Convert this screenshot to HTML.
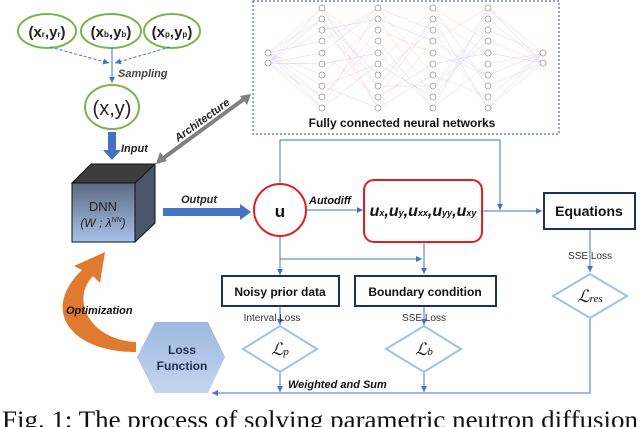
<!DOCTYPE html>
<html><head><meta charset="utf-8"><style>body{margin:0;background:#fff}svg{display:block}</style></head><body>
<svg width="640" height="427" viewBox="0 0 640 427" xmlns="http://www.w3.org/2000/svg" font-family="Liberation Sans, sans-serif">
<defs>
<marker id="a" markerWidth="8" markerHeight="8" refX="6" refY="3" orient="auto" markerUnits="userSpaceOnUse"><path d="M0,0 L6,3 L0,6z" fill="#4472c4"/></marker>
<linearGradient id="cf" x1="0" y1="0" x2="0" y2="1"><stop offset="0" stop-color="#5a6a82"/><stop offset="1" stop-color="#a9c2ea"/></linearGradient>
<linearGradient id="hx" x1="0" y1="0" x2="0" y2="1"><stop offset="0" stop-color="#9fb7e0"/><stop offset="1" stop-color="#c4d5ee"/></linearGradient>
</defs>
<g fill="none" stroke="#7fb24e" stroke-width="2">
<ellipse cx="47" cy="31" rx="29" ry="17"/><ellipse cx="111" cy="31" rx="30" ry="17"/><ellipse cx="172" cy="31" rx="28" ry="17"/>
<ellipse cx="112" cy="107" rx="27" ry="22"/>
</g>
<g font-size="15" fill="#222" text-anchor="middle" font-weight="bold">
<text x="47" y="37">(x<tspan font-size="8">r</tspan>,y<tspan font-size="8">r</tspan>)</text>
<text x="111" y="37">(x<tspan font-size="8">b</tspan>,y<tspan font-size="8">b</tspan>)</text>
<text x="172" y="37">(x<tspan font-size="8">p</tspan>,y<tspan font-size="8">p</tspan>)</text>
<text x="112" y="115" font-size="20" font-weight="normal">(x,y)</text>
</g>
<g stroke="#4472c4" stroke-width="1" fill="none">
<path d="M50,47 L109,63" stroke-dasharray="3,2" marker-end="url(#a)"/>
<path d="M170,47 L115,63" stroke-dasharray="3,2" marker-end="url(#a)"/>
<path d="M112,48 L112,83" marker-end="url(#a)"/>
</g>
<text x="118" y="77" font-size="11" font-style="italic" font-weight="bold" fill="#444">Sampling</text>
<path d="M108,132 L116,132 L116,150 L121,150 L112,160 L103,150 L108,150z" fill="#4472c4"/>
<text x="121" y="152" font-size="11" font-style="italic" font-weight="bold" fill="#222">Input</text>
<path d="M72,183 L91,164 L155,164 L135,183z" fill="#3d3d3d" stroke="#111"/>
<path d="M135,183 L155,164 L155,223 L135,242z" fill="#4a5568" stroke="#111"/>
<rect x="72" y="183" width="63" height="59" fill="url(#cf)" stroke="#111"/>
<text x="103" y="211" font-size="13" text-anchor="middle" fill="#222">DNN</text>
<text x="103" y="227" font-size="12" text-anchor="middle" font-style="italic" fill="#222">(W ; λ<tspan font-size="7" dy="-5">NN</tspan><tspan dy="5">)</tspan></text>
<path d="M158,162 L248,96" stroke="#808080" stroke-width="4"/>
<path d="M156,164 L160,152 L167,161z M251,94 L247,105 L240,96z" fill="#808080"/>
<text x="0" y="0" font-size="11" font-style="italic" font-weight="bold" fill="#222" transform="translate(178,142) rotate(-36)">Architecture</text>
<path d="M163,208 L240,208 L240,204 L251,212 L240,220 L240,216 L163,216z" fill="#4472c4"/>
<text x="181" y="203" font-size="11" font-style="italic" font-weight="bold" fill="#222">Output</text>
<rect x="253" y="1" width="306" height="133" fill="none" stroke="#2f4f8f" stroke-dasharray="2,2"/>
<g stroke-width="0.4" opacity="0.5">
<g stroke="#e88">
<path d="M268,53 L322,8 M268,63 L322,108 M268,53 L322,75 M268,63 L322,30 M268,53 L322,86 M268,63 L322,53 M268,53 L322,19 M268,63 L322,97
M322,8 L378,108 M322,108 L378,8 M322,30 L378,86 M322,53 L378,97 M322,8 L378,53 M322,41 L378,8 M322,75 L378,19 M322,86 L378,64 M322,97 L378,41 M322,19 L378,108
M378,19 L433,97 M378,64 L433,8 M378,108 L433,41 M378,8 L433,75 M378,30 L433,53 M378,53 L433,108 M378,75 L433,30 M378,97 L433,19 M378,86 L433,86
M433,30 L488,108 M433,86 L488,19 M433,53 L488,75 M433,8 L488,41 M433,108 L488,64 M433,41 L488,8 M433,75 L488,97 M433,19 L488,53
M488,8 L543,53 M488,108 L543,63 M488,41 L543,63 M488,30 L543,53 M488,86 L543,63 M488,64 L543,53"/>
</g>
<g stroke="#88e">
<path d="M268,53 L322,97 M268,63 L322,19 M268,53 L322,41 M268,63 L322,64 M268,53 L322,108 M268,63 L322,8
M322,19 L378,75 M322,97 L378,30 M322,64 L378,53 M322,8 L378,86 M322,30 L378,19 M322,108 L378,64 M322,53 L378,8 M322,86 L378,108
M378,41 L433,108 M378,86 L433,19 M378,97 L433,64 M378,8 L433,30 M378,64 L433,97 M378,19 L433,41 M378,108 L433,75
M433,8 L488,86 M433,97 L488,30 M433,64 L488,53 M433,19 L488,108 M433,41 L488,75 M433,108 L488,8 M433,86 L488,41
M488,19 L543,63 M488,97 L543,53 M488,75 L543,53 M488,53 L543,63 M488,8 L543,63 M488,108 L543,53"/>
</g>
</g>
<g fill="#fff" stroke="#999" stroke-width="0.8">
<circle cx="268" cy="53" r="3"/><circle cx="268" cy="63" r="3"/>
<circle cx="543" cy="53" r="3"/><circle cx="543" cy="63" r="3"/>
<g id="col"><circle cx="322" cy="8" r="3"/><circle cx="322" cy="19" r="3"/><circle cx="322" cy="30" r="3"/><circle cx="322" cy="41" r="3"/><circle cx="322" cy="53" r="3"/><circle cx="322" cy="64" r="3"/><circle cx="322" cy="75" r="3"/><circle cx="322" cy="86" r="3"/><circle cx="322" cy="97" r="3"/><circle cx="322" cy="108" r="3"/></g>
<use href="#col" x="56"/><use href="#col" x="111"/><use href="#col" x="166"/>
</g>
<text x="402" y="127" font-size="12" font-weight="bold" text-anchor="middle" fill="#111">Fully connected neural networks</text>
<g stroke="#4472c4" stroke-width="1" fill="none">
<path d="M280,184 L280,140 L500,140 L500,210" marker-end="url(#a)"/>
<path d="M306,210 L363,210" marker-end="url(#a)"/>
<path d="M482,211 L542,211" marker-end="url(#a)"/>
<path d="M280,236 L280,275" marker-end="url(#a)"/>
<path d="M280,259 L422,259" marker-end="url(#a)"/>
<path d="M424,242 L424,274" marker-end="url(#a)"/>
<path d="M590,230 L590,272" marker-end="url(#a)"/>
<path d="M280,306 L280,325" marker-end="url(#a)"/>
<path d="M424,306 L424,325" marker-end="url(#a)"/>
<path d="M280,372 L280,392" marker-end="url(#a)"/>
<path d="M424,372 L424,392" marker-end="url(#a)"/>
<path d="M590,318 L590,393 L212,393" marker-end="url(#a)"/>
</g>
<circle cx="280" cy="210" r="26" fill="#fff" stroke="#e02020" stroke-width="2"/>
<text x="280" y="217" font-size="17" font-weight="bold" text-anchor="middle" fill="#111">u</text>
<text x="309" y="204" font-size="11" font-style="italic" font-weight="bold" fill="#111">Autodiff</text>
<rect x="364" y="180" width="118" height="62" rx="10" fill="#fff" stroke="#e02020" stroke-width="2"/>
<text x="423" y="216" font-size="16" font-style="italic" font-weight="bold" text-anchor="middle" fill="#111">u<tspan font-size="9">x</tspan>,u<tspan font-size="9">y</tspan>,u<tspan font-size="9">xx</tspan>,u<tspan font-size="9">yy</tspan>,u<tspan font-size="9">xy</tspan></text>
<rect x="544" y="193" width="91" height="36" fill="#fff" stroke="#1f2f5f" stroke-width="2"/>
<text x="589" y="216" font-size="14" font-weight="bold" text-anchor="middle" fill="#111">Equations</text>
<rect x="222" y="276" width="117" height="30" fill="#fff" stroke="#1f2f5f" stroke-width="2"/>
<text x="280" y="296" font-size="12" font-weight="bold" text-anchor="middle" fill="#111">Noisy prior data</text>
<rect x="355" y="276" width="141" height="30" fill="#fff" stroke="#1f2f5f" stroke-width="2"/>
<text x="425" y="296" font-size="12" font-weight="bold" text-anchor="middle" fill="#111">Boundary condition</text>
<g font-size="10" fill="#333" text-anchor="middle">
<text x="590" y="259">SSE Loss</text><text x="272" y="321">Interval Loss</text><text x="424" y="321">SSE Loss</text>
</g>
<g fill="#fff" stroke="#9dc3e6" stroke-width="2">
<path d="M553,296 L590,274 L627,296 L590,318z"/>
<path d="M243,349 L280,326 L317,349 L280,372z"/>
<path d="M386,349 L424,326 L461,349 L424,372z"/>
</g>
<g font-family="Liberation Serif, serif" font-style="italic" font-size="17" text-anchor="middle" fill="#111">
<text x="590" y="302">ℒ<tspan font-size="11">res</tspan></text>
<text x="280" y="355">ℒ<tspan font-size="11">p</tspan></text>
<text x="424" y="355">ℒ<tspan font-size="11">b</tspan></text>
</g>
<text x="288" y="388" font-size="11" font-style="italic" font-weight="bold" fill="#111">Weighted and Sum</text>
<path d="M137,357 L155,322 L208,322 L225,357 L208,393 L155,393z" fill="url(#hx)"/>
<text x="182" y="354" font-size="12" font-weight="bold" text-anchor="middle" fill="#1f2f4f">Loss</text>
<text x="182" y="370" font-size="12" font-weight="bold" text-anchor="middle" fill="#1f2f4f">Function</text>
<path d="M136,352 C70,352 40,310 82,270 L74,266 L105,252 L100,283 L93,276 C70,300 90,340 136,342 z" fill="#e07a2e"/>
<text x="66" y="314" font-size="11" font-style="italic" font-weight="bold" fill="#111">Optimization</text>
<text x="2" y="428" font-family="Liberation Serif, serif" font-size="25" fill="#111" textLength="636" lengthAdjust="spacingAndGlyphs">Fig. 1: The process of solving parametric neutron diffusion</text>
</svg>
</body></html>
